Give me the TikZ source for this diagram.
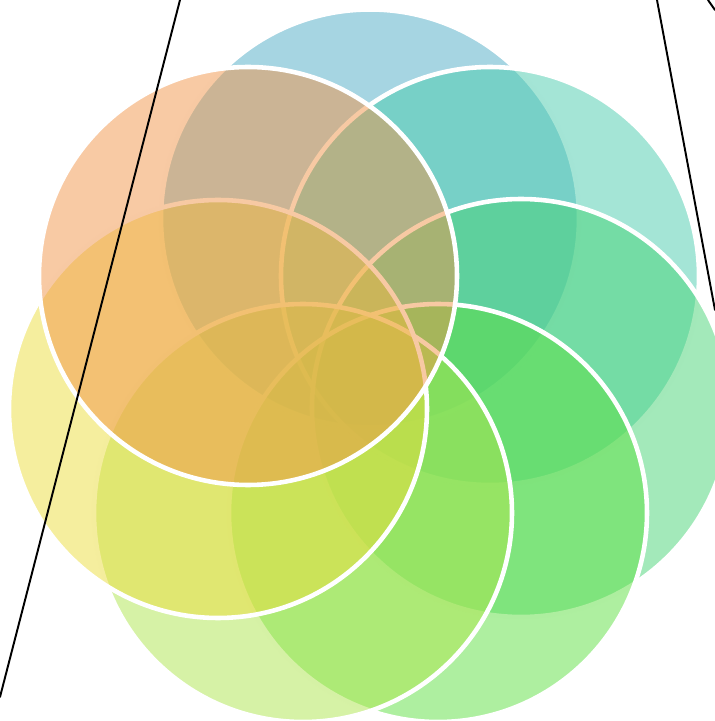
\documentclass[tikz,border=0pt]{standalone}
\usepackage{tikz}
\usetikzlibrary{calc}
\definecolor{ink}{HTML}{000000}
\definecolor{bluecol}{HTML}{4DABC5}
\definecolor{tealcol}{HTML}{49CBAD}
\definecolor{mintcol}{HTML}{47D375}
\definecolor{grasscol}{HTML}{5DDF41}
\definecolor{limecol}{HTML}{ADE54D}
\definecolor{sandcol}{HTML}{EBDD3D}
\definecolor{peachcol}{HTML}{F19549}

\begin{document}
\begin{tikzpicture}[
  line cap=round, line join=round,
  petal/.style={fill=#1, fill opacity=0.5, draw=white, line width=2.6pt},
  frameline/.style={ink, line width=1.1pt}]
\useasboundingbox (0,0) rectangle (14.3,14.42);
\clip (0,0) rectangle (14.3,14.42);

% ================================================================ the petals
\foreach \p/\c in {(7.40,10.05)/bluecol, (9.80,8.90)/tealcol,
                   (10.42,6.26)/mintcol, (8.76,4.16)/grasscol,
                   (6.06,4.16)/limecol, (4.36,6.24)/sandcol,
                   (4.96,8.90)/peachcol}
  \draw[petal=\c] \p circle (4.18);

% ================================================================ the frame
\coordinate (lefttop) at (3.60,14.42);
\coordinate (leftbot) at (0,0.48);
\coordinate (righttop) at (13.14,14.42);
\coordinate (rightbot) at (14.30,8.22);
\coordinate (cornertop) at (14.16,14.42);
\coordinate (cornerbot) at (14.30,14.22);
\draw[frameline] (lefttop) -- (leftbot);
\draw[frameline] (righttop) -- (rightbot);
\draw[frameline] (cornertop) -- (cornerbot);

\end{tikzpicture}
\end{document}
